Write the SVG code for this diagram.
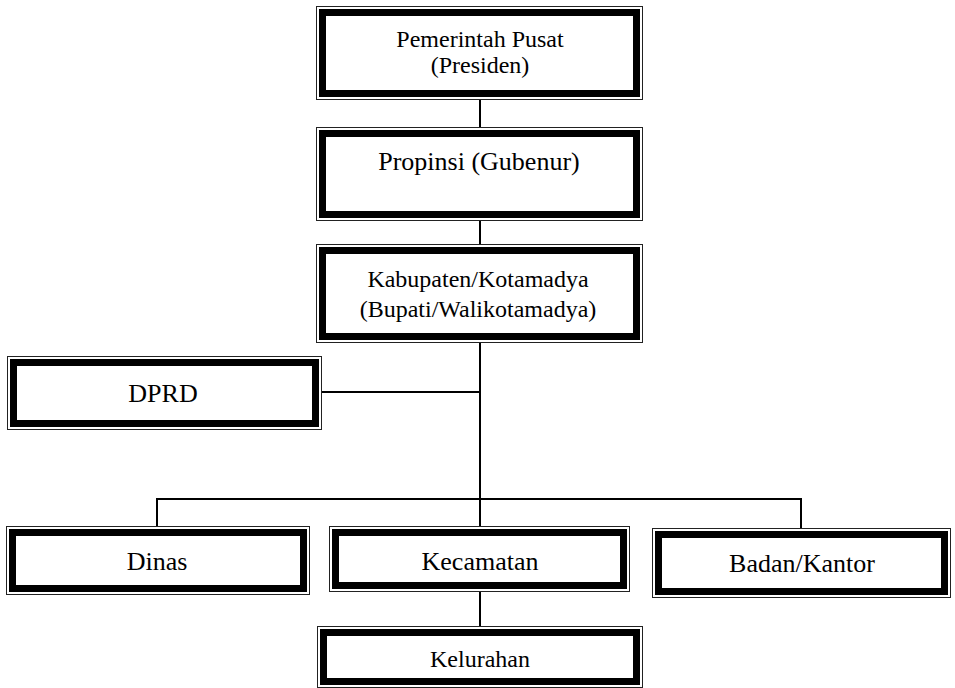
<svg xmlns="http://www.w3.org/2000/svg" width="955" height="688" viewBox="0 0 955 688">
<style>
.outer{fill:#fff;stroke:#222;stroke-width:1}
.thick{fill:none;stroke:#000;stroke-width:7}
.t24{font-family:"Liberation Serif","Times New Roman",serif;font-size:24px;fill:#000;text-anchor:middle}
.t26{font-family:"Liberation Serif","Times New Roman",serif;font-size:26px;fill:#000;text-anchor:middle}
.c{stroke:#000;stroke-width:2;fill:none}
</style>
<rect width="955" height="688" fill="#fff"/>
<g id="connectors">
<line class="c" x1="480" y1="99" x2="480" y2="128"/>
<line class="c" x1="480" y1="220" x2="480" y2="245"/>
<line class="c" x1="480" y1="342" x2="480" y2="527"/>
<line class="c" x1="321" y1="392" x2="480" y2="392"/>
<line class="c" x1="156" y1="499" x2="802" y2="499"/>
<line class="c" x1="157" y1="498" x2="157" y2="527"/>
<line class="c" x1="801" y1="498" x2="801" y2="529"/>
<line class="c" x1="480" y1="591" x2="480" y2="627"/>
</g>
<g id="pemerintah">
<rect class="outer" x="316.5" y="6.5" width="326" height="93"/>
<rect class="thick" x="322.5" y="12.5" width="314" height="81"/>
<text class="t24" x="480" y="47">Pemerintah Pusat</text>
<text class="t24" x="480" y="73">(Presiden)</text>
</g>
<g id="propinsi">
<rect class="outer" x="316.5" y="127.5" width="326" height="93"/>
<rect class="thick" x="322.5" y="133.5" width="314" height="81"/>
<text class="t26" x="479" y="170">Propinsi (Gubenur)</text>
</g>
<g id="kabupaten">
<rect class="outer" x="316.5" y="244.5" width="326" height="98"/>
<rect class="thick" x="322.5" y="250.5" width="314" height="86"/>
<text class="t24" x="478" y="287">Kabupaten/Kotamadya</text>
<text class="t24" x="478" y="317">(Bupati/Walikotamadya)</text>
</g>
<g id="dprd">
<rect class="outer" x="7.5" y="356.5" width="314" height="73"/>
<rect class="thick" x="13.5" y="362.5" width="302" height="61"/>
<text class="t26" x="163" y="402">DPRD</text>
</g>
<g id="dinas">
<rect class="outer" x="6.5" y="526.5" width="303" height="68"/>
<rect class="thick" x="12.5" y="532.5" width="291" height="56"/>
<text class="t26" x="157" y="570">Dinas</text>
</g>
<g id="kecamatan">
<rect class="outer" x="329.5" y="526.5" width="300" height="65"/>
<rect class="thick" x="335.5" y="532.5" width="288" height="53"/>
<text class="t26" x="480" y="570">Kecamatan</text>
</g>
<g id="badan">
<rect class="outer" x="652.5" y="528.5" width="298" height="69"/>
<rect class="thick" x="658.5" y="534.5" width="286" height="57"/>
<text class="t26" x="802" y="572">Badan/Kantor</text>
</g>
<g id="kelurahan">
<rect class="outer" x="317.5" y="626.5" width="325" height="61"/>
<rect class="thick" x="323.5" y="632.5" width="313" height="49"/>
<text class="t24" x="480" y="667">Kelurahan</text>
</g>
</svg>
